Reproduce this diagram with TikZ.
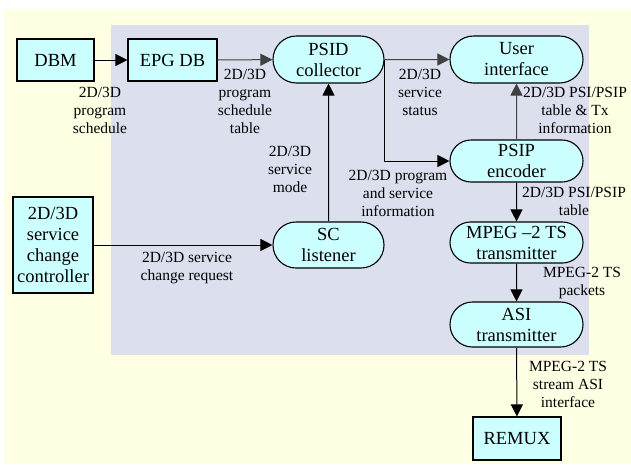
\documentclass[tikz,border=0pt]{standalone}
\usepackage{fontspec}
\setmainfont{Liberation Serif}
\usetikzlibrary{shapes.misc,arrows.meta}
\definecolor{bgyellow}{HTML}{FFFFE3}
\definecolor{bgblue}{HTML}{DBDFEE}
\definecolor{nodefill}{HTML}{CCFFFF}
\definecolor{darkline}{HTML}{404040}
\begin{document}
\begin{tikzpicture}[x=1pt,y=-1pt,
  box/.style={draw=black, line width=1.1pt, fill=nodefill, inner sep=0pt, align=center,
    font=\fontsize{18.5}{21}\selectfont},
  pill/.style={box, rounded rectangle},
  lbl/.style={align=center, inner sep=0pt, font=\fontsize{15.5}{18}\selectfont},
  arr/.style={draw=black, line width=1pt, -{Triangle[length=12pt,width=12pt]}},
  garr/.style={arr, draw=darkline, -{Triangle[length=12pt,width=12pt,fill=darkline]}}]
\useasboundingbox (0,0) rectangle (631,464);
\fill[bgyellow] (4,10) rectangle (631,464);
\fill[bgblue] (111,25) rectangle (589,355);
% nodes
\node[box, minimum width=77pt, minimum height=42pt] (dbm) at (55.5,60) {DBM};
\node[box, minimum width=89pt, minimum height=42pt] (epg) at (172.5,60) {EPG DB};
\node[box, minimum width=80pt, minimum height=96pt] (ctrl) at (53,245) {2D/3D\\service\\change\\controller};
\node[box, minimum width=88pt, minimum height=43pt] (remux) at (517,438.5) {REMUX};
\node[pill, minimum width=111pt, minimum height=47pt] (psid) at (328.5,59.5) {PSID\\collector};
\node[pill, minimum width=133pt, minimum height=47pt] (ui) at (516.5,59.5) {User\\interface};
\node[pill, minimum width=133pt, minimum height=42pt] (psip) at (516.5,161) {PSIP\\encoder};
\node[pill, minimum width=133pt, minimum height=41pt] (mpeg) at (516.5,242.5) {MPEG --2 TS\\transmitter};
\node[pill, minimum width=133pt, minimum height=45pt] (asi) at (516.5,324.5) {ASI\\transmitter};
\node[pill, minimum width=111pt, minimum height=46pt] (sc) at (328.5,245) {SC\\listener};
% connectors
\draw[arr] (dbm) -- (epg);
\draw[garr] (epg) -- (psid);
\draw[garr] (psid) -- (ui);
\draw[arr] (psid.east) |- (psip.west);
\draw[garr] (psip) -- (ui);
\draw[arr] (psip) -- (mpeg);
\draw[arr] (mpeg) -- (asi);
\draw[arr] (asi) -- (remux);
\draw[arr] (sc) -- (psid);
\draw[arr] (ctrl.east |- sc.west) -- (sc.west);
% labels
\node[lbl] (l1) at (100,110) {2D/3D\\program\\schedule};
\node[lbl] (l2) at (245,101) {2D/3D\\program\\schedule\\table};
\node[lbl] (l3) at (420,92) {2D/3D\\service\\status};
\node[lbl] (l4) at (398,193) {2D/3D program\\and service\\information};
\node[lbl] (l5) at (575,110) {2D/3D PSI/PSIP\\table \& Tx\\information};
\node[lbl] (l6) at (574,201) {2D/3D PSI/PSIP\\table};
\node[lbl] (l7) at (582,283) {MPEG-2 TS\\packets};
\node[lbl] (l8) at (568,384) {MPEG-2 TS\\stream ASI\\interface};
\node[lbl] (l9) at (290,169) {2D/3D\\service\\mode};
\node[lbl] (l10) at (187,268) {2D/3D service\\change request};
\end{tikzpicture}
\end{document}
